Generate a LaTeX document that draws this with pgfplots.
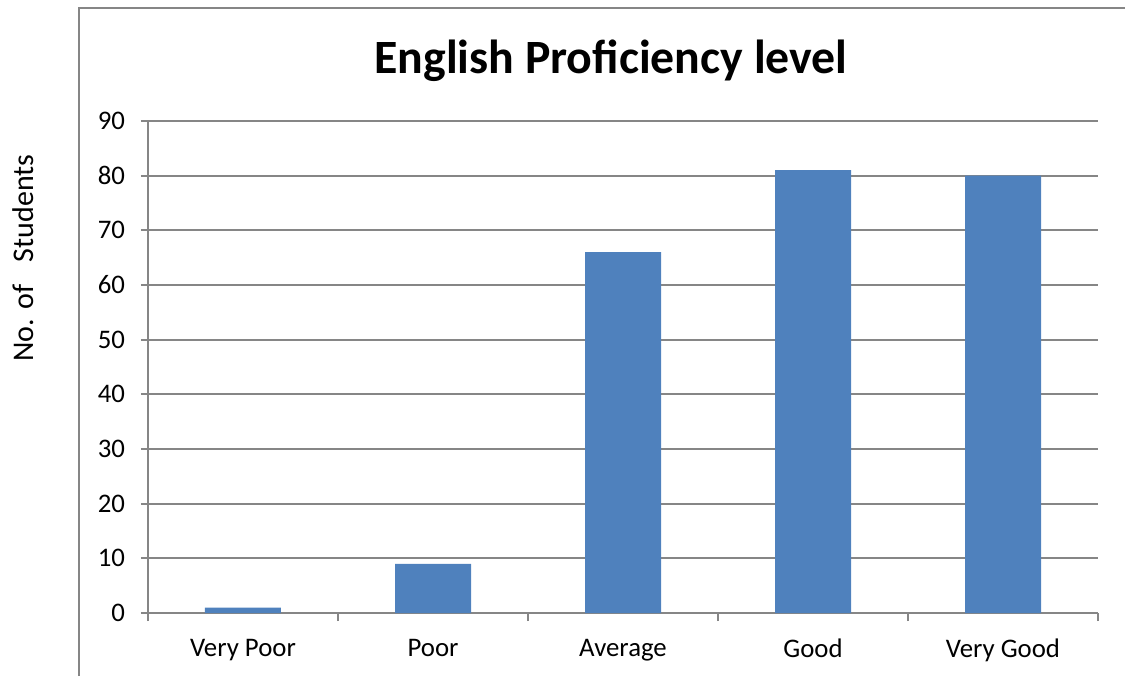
\documentclass[border=0pt]{standalone}
\usepackage{fontspec}
\setmainfont{Carlito}
\usepackage{pgfplots}
\pgfplotsset{compat=1.18}
\definecolor{barblue}{HTML}{4F81BD}
\definecolor{gridgray}{HTML}{868686}

\begin{document}
\begin{tikzpicture}
\begin{axis}[
    scale only axis,
    width=475pt, height=246pt,
    ymin=0, ymax=90,
    ytick={0,10,...,90},
    xmin=-0.5, xmax=4.5,
    xtick={0,1,2,3,4},
    xticklabels={Very Poor, Poor, Average, Good, Very Good},
    major x tick style={draw=none},
    minor xtick={-0.5,0.5,1.5,2.5,3.5,4.5},
    minor tick length=4pt,
    major tick length=3.5pt,
    tick align=outside,
    xtick pos=bottom, ytick pos=left,
    axis x line*=bottom, axis y line*=left,
    axis line style={gridgray, line width=0.9pt},
    every tick/.style={gridgray, line width=0.9pt},
    ymajorgrids,
    grid style={gridgray, line width=0.9pt},
    tick label style={font=\fontsize{13.4}{15}\selectfont, /pgf/number format/assume math mode=true},
    yticklabel style={xshift=-4.5pt},
    xticklabel style={yshift=-6pt},
    ybar, bar width=38pt,
    clip=false,
]
\addplot[fill=barblue, draw=none] coordinates {(0,1) (1,9) (2,66) (3,81) (4,80)};
\end{axis}
% chart frame
\draw[gridgray, line width=1pt] (-34.5pt,-31.5pt) -- (-34.5pt,302.5pt) -- (488.5pt,302.5pt);
\node[font=\fontsize{23.9}{26}\selectfont\bfseries] at (231.5pt,276pt) {English Proficiency level};
\node[rotate=90, font=\fontsize{15}{17}\selectfont] at (-62.5pt,177.5pt) {No. of\hspace{0.75em}Students};
\pgfresetboundingbox
\path[use as bounding box] (-74pt,-31.5pt) rectangle (488.5pt,306.5pt);
\end{tikzpicture}
\end{document}
